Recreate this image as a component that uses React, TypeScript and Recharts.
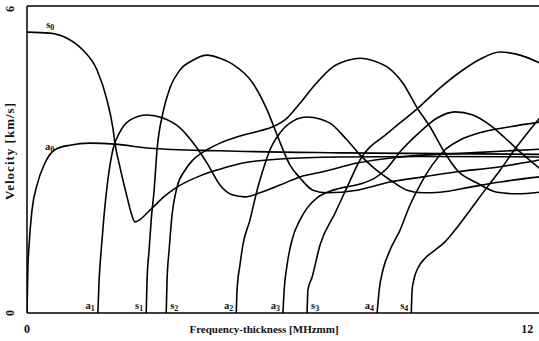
import React from "react";
import {
  ComposedChart,
  Line,
  Scatter,
  XAxis,
  YAxis,
  ReferenceLine,
} from "recharts";

// Group velocity dispersion curves, [frequency-thickness (MHz·mm), velocity (km/s)]
const S0: [number, number][] = [
  [0, 5.49], [0.55, 5.47], [0.96, 5.37], [1.34, 5.14], [1.68, 4.75], [1.92, 4.16],
  [2.06, 3.62], [2.11, 3.32], [2.23, 2.85], [2.4, 2.27], [2.52, 1.9], [2.59, 1.78],
  [2.7, 1.82], [2.95, 2.01], [3.31, 2.29], [3.6, 2.46], [4.15, 2.68], [4.63, 2.81],
  [5.18, 2.93], [6.07, 3.01], [7.51, 3.05], [9.43, 3.06], [12.29, 3.05],
];
const A0: [number, number][] = [
  [0, 0], [0.02, 0.84], [0.05, 1.33], [0.12, 2.01], [0.24, 2.5], [0.43, 2.93],
  [0.67, 3.19], [1.03, 3.28], [1.51, 3.32], [2.11, 3.3], [2.95, 3.22], [4.63, 3.17],
  [7.51, 3.13], [12.29, 3.1],
];
const A1: [number, number][] = [
  [1.7, 0], [1.73, 0.64], [1.78, 1.23], [1.85, 1.92], [1.94, 2.6], [2.06, 3.19],
  [2.23, 3.54], [2.47, 3.77], [2.88, 3.87], [3.26, 3.81], [3.67, 3.62], [4.03, 3.28],
  [4.32, 2.93], [4.63, 2.5], [4.92, 2.31], [5.23, 2.27], [5.59, 2.35], [6.07, 2.5],
  [6.55, 2.66], [7.1, 2.76], [7.92, 2.93], [8.95, 3.05], [10.63, 3.13], [12.29, 3.2],
];
const S1: [number, number][] = [
  [2.86, 0], [2.88, 0.64], [2.93, 1.23], [2.98, 1.82], [3.05, 2.4], [3.12, 3.19],
  [3.26, 3.91], [3.43, 4.4], [3.67, 4.75], [3.98, 4.94], [4.32, 5.04], [4.63, 4.98],
  [4.92, 4.87], [5.42, 4.49], [5.76, 3.97], [6.0, 3.48], [6.31, 2.89], [6.55, 2.64],
  [6.86, 2.4], [7.2, 2.35], [7.92, 2.4], [8.71, 2.56], [9.5, 2.66], [10.32, 2.76],
  [11.28, 2.85], [12.29, 2.99],
];
const S2: [number, number][] = [
  [3.34, 0], [3.36, 0.64], [3.41, 1.23], [3.48, 1.92], [3.6, 2.46], [3.79, 2.79],
  [3.98, 2.99], [4.32, 3.19], [4.63, 3.32], [5.11, 3.46], [5.59, 3.56], [5.9, 3.64],
  [6.24, 3.81], [6.55, 4.1], [6.91, 4.46], [7.34, 4.81], [7.7, 4.94], [7.99, 4.98],
  [8.35, 4.92], [8.64, 4.81], [9.02, 4.49], [9.36, 4.01], [9.67, 3.64], [9.98, 3.19],
  [10.32, 2.79], [10.8, 2.54], [11.28, 2.36], [11.76, 2.33], [12.29, 2.36],
];
const A2: [number, number][] = [
  [5.02, 0], [5.04, 0.45], [5.11, 0.94], [5.18, 1.33], [5.35, 1.82], [5.52, 2.4],
  [5.66, 2.79], [5.83, 3.19], [6.07, 3.52], [6.38, 3.75], [6.72, 3.83], [7.03, 3.79],
  [7.27, 3.71], [7.68, 3.38], [7.99, 3.09], [8.3, 2.85], [8.71, 2.6], [9.12, 2.4],
  [9.5, 2.35], [9.91, 2.36], [10.63, 2.46], [11.35, 2.56], [12.29, 2.66],
];
const A3: [number, number][] = [
  [6.14, 0], [6.17, 0.45], [6.24, 0.94], [6.36, 1.43], [6.55, 1.82], [6.72, 2.05],
  [6.96, 2.25], [7.27, 2.38], [7.63, 2.46], [7.99, 2.52], [8.35, 2.64], [8.64, 2.83],
  [8.95, 3.15], [9.43, 3.54], [9.84, 3.81], [10.27, 3.93], [10.7, 3.87], [11.11, 3.67],
  [11.47, 3.42], [11.83, 3.15], [12.29, 2.83],
];
const S3: [number, number][] = [
  [6.72, 0], [6.74, 0.45], [6.84, 0.7], [7.03, 1.33], [7.39, 1.95], [7.68, 2.46],
  [7.99, 2.99], [8.66, 3.52], [9.36, 3.99], [9.91, 4.4], [10.39, 4.71], [10.87, 4.96],
  [11.35, 5.1], [11.83, 5.04], [12.29, 4.89],
];
const A4: [number, number][] = [
  [8.4, 0], [8.45, 0.45], [8.54, 0.84], [8.71, 1.23], [8.95, 1.62], [9.19, 2.11],
  [9.43, 2.5], [9.72, 2.89], [10.03, 3.19], [10.39, 3.38], [10.94, 3.54], [11.59, 3.64],
  [12.29, 3.73],
];
const S4: [number, number][] = [
  [9.22, 0], [9.24, 0.45], [9.29, 0.68], [9.38, 0.88], [9.55, 1.07], [9.79, 1.23],
  [10.03, 1.39], [10.27, 1.62], [10.63, 2.01], [11.04, 2.46], [11.35, 2.79],
  [11.66, 3.15], [12.29, 3.8],
];

const MODES = [
  { key: "s0", pts: S0 },
  { key: "a0", pts: A0 },
  { key: "a1", pts: A1 },
  { key: "s1", pts: S1 },
  { key: "s2", pts: S2 },
  { key: "a2", pts: A2 },
  { key: "a3", pts: A3 },
  { key: "s3", pts: S3 },
  { key: "a4", pts: A4 },
  { key: "s4", pts: S4 },
];

// mode name labels: family letter, order, where it sits, which side of the point
const MODE_LABELS = [
  { f: 0.46, v: 5.57, family: "s", order: "0", side: "start" },
  { f: 0.43, v: 3.19, family: "a", order: "0", side: "start" },
  { f: 1.7, v: 0, family: "a", order: "1", side: "end" },
  { f: 2.86, v: 0, family: "s", order: "1", side: "end" },
  { f: 3.34, v: 0, family: "s", order: "2", side: "start" },
  { f: 5.02, v: 0, family: "a", order: "2", side: "end" },
  { f: 6.14, v: 0, family: "a", order: "3", side: "end" },
  { f: 6.72, v: 0, family: "s", order: "3", side: "start" },
  { f: 8.4, v: 0, family: "a", order: "4", side: "end" },
  { f: 9.22, v: 0, family: "s", order: "4", side: "end" },
];

const X_TICKS = [0, 12];
const Y_TICKS = [0, 6];

const FONT = '"Liberation Serif", "Times New Roman", serif';

const ModeLabel = (props: any) => {
  const { cx, cy, payload } = props;
  const onAxis = payload.v === 0;
  const dx = payload.side === "end" ? -3 : onAxis ? 4 : 0;
  return (
    <text
      x={cx + dx}
      y={onAxis ? cy - 4 : cy}
      textAnchor={payload.side}
      fontFamily={FONT}
      fontWeight="bold"
      fontSize={10.5}
      fill="#111"
    >
      {payload.family}
      <tspan fontSize={8} dy={2}>
        {payload.order}
      </tspan>
    </text>
  );
};

const YTick = (props: any) => {
  const { x, y, payload } = props;
  return (
    <g transform={`translate(${x},${y}) rotate(-90)`}>
      <text textAnchor="middle" y={4} fontFamily={FONT} fontWeight="bold" fontSize={12} fill="#111">
        {payload.value}
      </text>
    </g>
  );
};

const XTick = (props: any) => {
  const { x, y, payload } = props;
  return (
    <text x={x} y={y + 20} textAnchor="middle" fontFamily={FONT} fontWeight="bold" fontSize={12} fill="#111">
      {payload.value}
    </text>
  );
};

export default function App() {
  return (
    <div style={{ position: "absolute", left: 0, top: 0, background: "#fff" }}>
      <ComposedChart width={560} height={341} margin={{ top: 6, right: 12, bottom: 0, left: 0 }}>
        <XAxis
          type="number"
          dataKey="f"
          domain={[0, 12.5]}
          ticks={X_TICKS}
          tick={<XTick />}
          tickSize={0}
          tickMargin={0}
          height={28}
          axisLine={{ stroke: "#000", strokeWidth: 1.5 }}
          allowDataOverflow
        />
        <YAxis
          type="number"
          dataKey="v"
          domain={[0, 6]}
          ticks={Y_TICKS}
          tick={<YTick />}
          tickSize={0}
          tickMargin={17}
          width={27}
          axisLine={{ stroke: "#000", strokeWidth: 1.5 }}
          allowDataOverflow
        />
        <ReferenceLine y={6} stroke="#000" strokeWidth={1.5} />
        {MODES.map((m) => (
          <Line
            key={m.key}
            data={m.pts.map(([f, v]) => ({ f, v }))}
            dataKey="v"
            type="monotone"
            stroke="#000"
            strokeWidth={1.6}
            dot={false}
            activeDot={false}
            isAnimationActive={false}
          />
        ))}
        <Scatter data={MODE_LABELS} dataKey="v" shape={<ModeLabel />} isAnimationActive={false} />
        <text x={264} y={333} textAnchor="middle" fontFamily={FONT} fontWeight="bold" fontSize={11} fill="#111">
          Frequency-thickness [MHzmm]
        </text>
        <text
          transform="translate(14,151) rotate(-90)"
          textAnchor="middle"
          fontFamily={FONT}
          fontWeight="bold"
          fontSize={13}
          letterSpacing={1}
          fill="#111"
        >
          Velocity [km/s]
        </text>
      </ComposedChart>
    </div>
  );
}
